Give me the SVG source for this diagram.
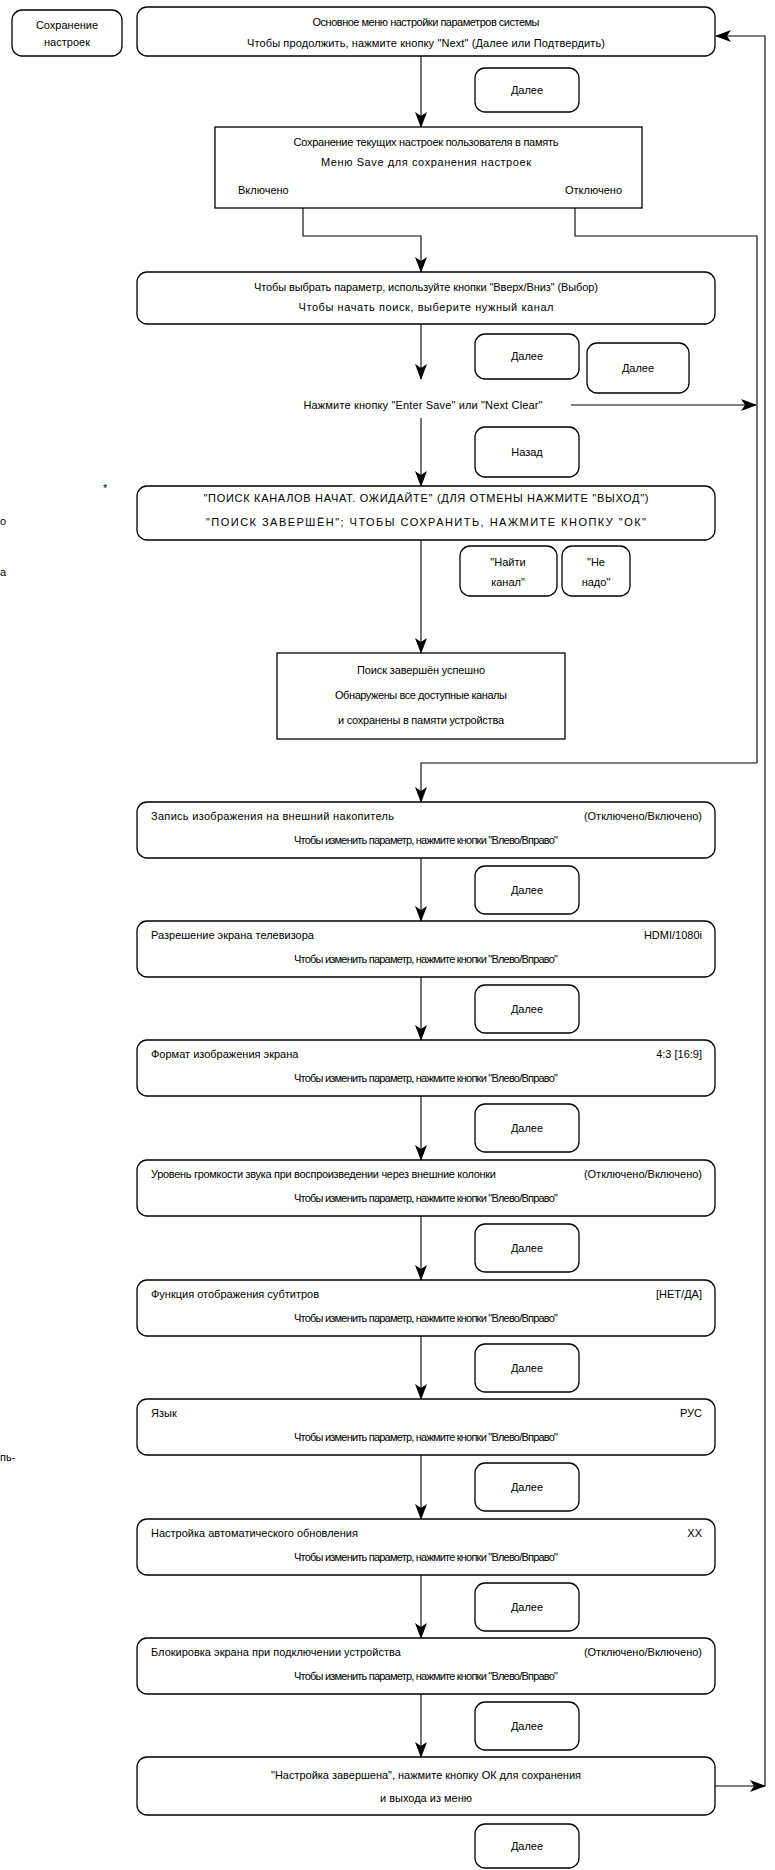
<svg xmlns="http://www.w3.org/2000/svg" width="775" height="1870" viewBox="0 0 775 1870">
<style>
.bx{fill:#fff;stroke:#000;stroke-width:1.3}
.ln{fill:none;stroke:#000;stroke-width:1.1}
text{font-family:"Liberation Sans",Arial,sans-serif;font-size:11px;fill:#000}
.c{text-anchor:middle}
.e{text-anchor:end}
</style>
<defs>
<marker id="ar" markerUnits="userSpaceOnUse" markerWidth="16" markerHeight="12" refX="15" refY="6" orient="auto">
<path d="M0,0 L16,6 L0,12 L4,6 z" fill="#000"/>
</marker>
</defs>
<rect width="775" height="1870" fill="#fff"/>

<g id="connectors">
<path class="ln" d="M421,56 V127" marker-end="url(#ar)"/>
<path class="ln" d="M303,208 V236 H421 V272" marker-end="url(#ar)"/>
<path class="ln" d="M575,208 V236 H757 V763"/>
<path class="ln" d="M421,324 V379" marker-end="url(#ar)"/>
<path class="ln" d="M571,405 H756" marker-end="url(#ar)"/>
<path class="ln" d="M421,418 V486" marker-end="url(#ar)"/>
<path class="ln" d="M421,540 V653" marker-end="url(#ar)"/>
<path class="ln" d="M757,763 H421 V802" marker-end="url(#ar)"/>
<path class="ln" d="M421,858 V921" marker-end="url(#ar)"/>
<path class="ln" d="M421,977 V1040" marker-end="url(#ar)"/>
<path class="ln" d="M421,1096 V1160" marker-end="url(#ar)"/>
<path class="ln" d="M421,1216 V1280" marker-end="url(#ar)"/>
<path class="ln" d="M421,1336 V1399" marker-end="url(#ar)"/>
<path class="ln" d="M421,1455 V1519" marker-end="url(#ar)"/>
<path class="ln" d="M421,1575 V1638" marker-end="url(#ar)"/>
<path class="ln" d="M421,1694 V1757" marker-end="url(#ar)"/>
<path class="ln" d="M715,1786 H765" marker-end="url(#ar)"/>
<path class="ln" d="M765,1786 V36 H716" marker-end="url(#ar)"/>
</g>

<g id="save">
<rect class="bx" x="12" y="10" width="110" height="46" rx="10"/>
<text class="c" x="67" y="29">Сохранение</text>
<text class="c" x="67" y="46">настроек</text>
</g>

<g id="menu">
<rect class="bx" x="137" y="7" width="578" height="49" rx="10"/>
<text class="c" x="426" y="26" textLength="227">Основное меню настройки параметров системы</text>
<text class="c" x="426" y="47" textLength="358">Чтобы продолжить, нажмите кнопку "Next" (Далее или Подтвердить)</text>
</g>
<g id="next1"><rect class="bx" x="475" y="68" width="104" height="44" rx="10"/><text class="c" x="527" y="94">Далее</text></g>

<g id="saveUser">
<rect class="bx" x="215" y="127" width="427" height="81"/>
<text class="c" x="426" y="146" textLength="265">Сохранение текущих настроек пользователя в память</text>
<text class="c" x="426" y="166" textLength="210">Меню Save для сохранения настроек</text>
<text x="238" y="194">Включено</text>
<text class="e" x="622" y="194">Отключено</text>
</g>

<g id="select">
<rect class="bx" x="137" y="272" width="578" height="52" rx="10"/>
<text class="c" x="426" y="291" textLength="344">Чтобы выбрать параметр, используйте кнопки "Вверх/Вниз" (Выбор)</text>
<text class="c" x="426" y="311" textLength="255">Чтобы начать поиск, выберите нужный канал</text>
</g>
<g id="next2"><rect class="bx" x="475" y="334" width="104" height="45" rx="10"/><text class="c" x="527" y="360">Далее</text></g>
<g id="next3"><rect class="bx" x="587" y="343" width="102" height="50" rx="10"/><text class="c" x="638" y="372">Далее</text></g>
<g id="press"><text class="c" x="423" y="409" textLength="239">Нажмите кнопку "Enter Save" или "Next Clear"</text></g>
<g id="back"><rect class="bx" x="475" y="427" width="104" height="50" rx="10"/><text class="c" x="527" y="456">Назад</text></g>

<g id="search">
<rect class="bx" x="137" y="486" width="578" height="54" rx="10"/>
<text class="c" x="426" y="502" textLength="445">"ПОИСК КАНАЛОВ НАЧАТ. ОЖИДАЙТЕ" (ДЛЯ ОТМЕНЫ НАЖМИТЕ "ВЫХОД")</text>
<text class="c" x="426" y="526" textLength="440">"ПОИСК ЗАВЕРШЁН"; ЧТОБЫ СОХРАНИТЬ, НАЖМИТЕ КНОПКУ "ОК"</text>
</g>
<g id="find"><rect class="bx" x="460" y="546" width="97" height="50" rx="10"/><text class="c" x="508" y="566">"Найти</text><text class="c" x="508" y="586">канал"</text></g>
<g id="skip"><rect class="bx" x="562" y="546" width="68" height="50" rx="10"/><text class="c" x="596" y="566">"Не</text><text class="c" x="596" y="586">надо"</text></g>

<g id="done">
<rect class="bx" x="277" y="653" width="288" height="86"/>
<text class="c" x="421" y="674" textLength="128">Поиск завершён успешно</text>
<text class="c" x="421" y="699" textLength="172">Обнаружены все доступные каналы</text>
<text class="c" x="421" y="724" textLength="166">и сохранены в памяти устройства</text>
</g>

<g id="record">
<rect class="bx" x="137" y="802" width="578" height="56" rx="10"/>
<text x="151" y="820" textLength="243">Запись изображения на внешний накопитель</text>
<text class="e" x="702" y="820">(Отключено/Включено)</text>
<text class="c" x="426" y="844" textLength="264">Чтобы изменить параметр, нажмите кнопки "Влево/Вправо"</text>
</g>
<g id="next4"><rect class="bx" x="475" y="866" width="104" height="48" rx="10"/><text class="c" x="527" y="894">Далее</text></g>

<g id="resolution">
<rect class="bx" x="137" y="921" width="578" height="56" rx="10"/>
<text x="151" y="939">Разрешение экрана телевизора</text>
<text class="e" x="702" y="939">HDMI/1080i</text>
<text class="c" x="426" y="963" textLength="264">Чтобы изменить параметр, нажмите кнопки "Влево/Вправо"</text>
</g>
<g id="next5"><rect class="bx" x="475" y="985" width="104" height="48" rx="10"/><text class="c" x="527" y="1013">Далее</text></g>

<g id="format">
<rect class="bx" x="137" y="1040" width="578" height="56" rx="10"/>
<text x="151" y="1058">Формат изображения экрана</text>
<text class="e" x="702" y="1058">4:3 [16:9]</text>
<text class="c" x="426" y="1082" textLength="264">Чтобы изменить параметр, нажмите кнопки "Влево/Вправо"</text>
</g>
<g id="next6"><rect class="bx" x="475" y="1104" width="104" height="48" rx="10"/><text class="c" x="527" y="1132">Далее</text></g>

<g id="volume">
<rect class="bx" x="137" y="1160" width="578" height="56" rx="10"/>
<text x="151" y="1178" textLength="345">Уровень громкости звука при воспроизведении через внешние колонки</text>
<text class="e" x="702" y="1178">(Отключено/Включено)</text>
<text class="c" x="426" y="1202" textLength="264">Чтобы изменить параметр, нажмите кнопки "Влево/Вправо"</text>
</g>
<g id="next7"><rect class="bx" x="475" y="1224" width="104" height="48" rx="10"/><text class="c" x="527" y="1252">Далее</text></g>

<g id="subtitles">
<rect class="bx" x="137" y="1280" width="578" height="56" rx="10"/>
<text x="151" y="1298">Функция отображения субтитров</text>
<text class="e" x="702" y="1298">[НЕТ/ДА]</text>
<text class="c" x="426" y="1322" textLength="264">Чтобы изменить параметр, нажмите кнопки "Влево/Вправо"</text>
</g>
<g id="next8"><rect class="bx" x="475" y="1344" width="104" height="48" rx="10"/><text class="c" x="527" y="1372">Далее</text></g>

<g id="language">
<rect class="bx" x="137" y="1399" width="578" height="56" rx="10"/>
<text x="151" y="1417">Язык</text>
<text class="e" x="702" y="1417">РУС</text>
<text class="c" x="426" y="1441" textLength="264">Чтобы изменить параметр, нажмите кнопки "Влево/Вправо"</text>
</g>
<g id="next9"><rect class="bx" x="475" y="1463" width="104" height="48" rx="10"/><text class="c" x="527" y="1491">Далее</text></g>

<g id="update">
<rect class="bx" x="137" y="1519" width="578" height="56" rx="10"/>
<text x="151" y="1537">Настройка автоматического обновления</text>
<text class="e" x="702" y="1537">ХХ</text>
<text class="c" x="426" y="1561" textLength="264">Чтобы изменить параметр, нажмите кнопки "Влево/Вправо"</text>
</g>
<g id="next10"><rect class="bx" x="475" y="1583" width="104" height="48" rx="10"/><text class="c" x="527" y="1611">Далее</text></g>

<g id="lock">
<rect class="bx" x="137" y="1638" width="578" height="56" rx="10"/>
<text x="151" y="1656">Блокировка экрана при подключении устройства</text>
<text class="e" x="702" y="1656">(Отключено/Включено)</text>
<text class="c" x="426" y="1680" textLength="264">Чтобы изменить параметр, нажмите кнопки "Влево/Вправо"</text>
</g>
<g id="next11"><rect class="bx" x="475" y="1702" width="104" height="48" rx="10"/><text class="c" x="527" y="1730">Далее</text></g>

<g id="finish">
<rect class="bx" x="137" y="1757" width="578" height="58" rx="10"/>
<text class="c" x="426" y="1779" textLength="310">"Настройка завершена", нажмите кнопку ОК для сохранения</text>
<text class="c" x="426" y="1802">и выхода из меню</text>
</g>
<g id="next12"><rect class="bx" x="475" y="1824" width="104" height="44" rx="10"/><text class="c" x="527" y="1850">Далее</text></g>

<g id="fragments">
<text x="103" y="492">*</text>
<text x="0" y="525">о</text>
<text x="0" y="576">а</text>
<text x="0" y="1461">пь-</text>
</g>
</svg>
